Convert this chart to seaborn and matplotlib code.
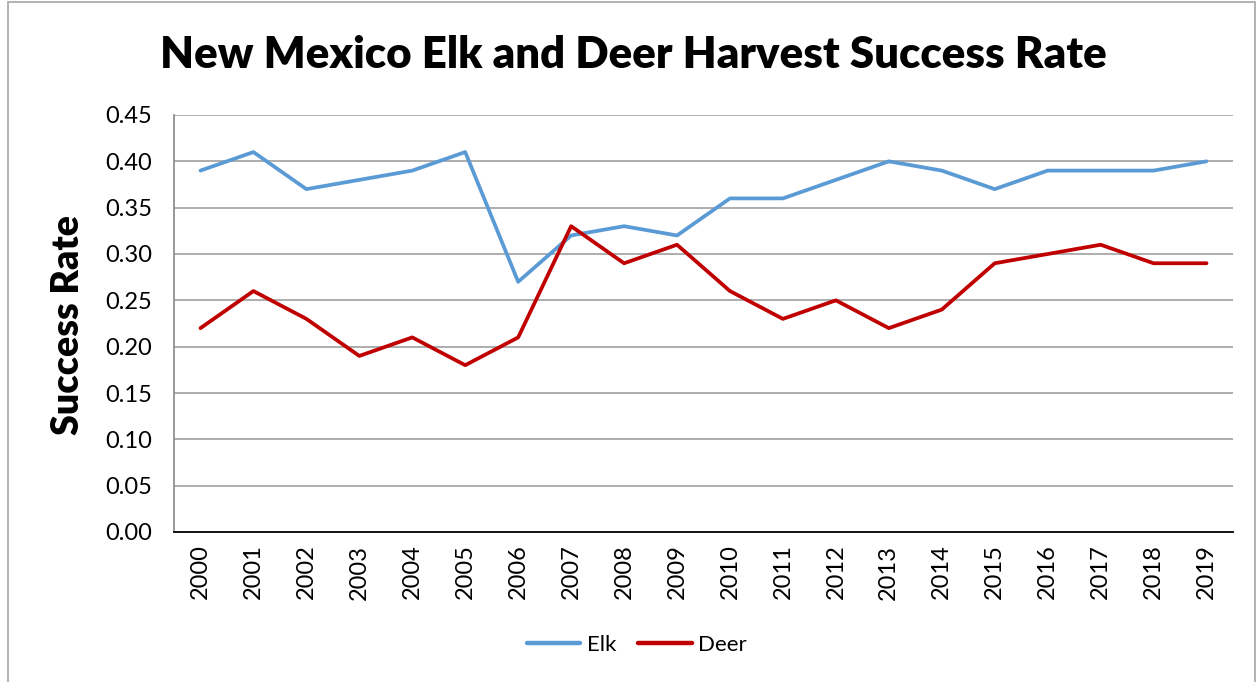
import matplotlib
matplotlib.use("Agg")
import matplotlib.pyplot as plt
from matplotlib.patches import Rectangle
import seaborn as sns
import pandas as pd

years = [str(y) for y in range(2000, 2020)]
elk = [0.39, 0.41, 0.37, 0.38, 0.39, 0.41, 0.27, 0.32, 0.33, 0.32,
       0.36, 0.36, 0.38, 0.40, 0.39, 0.37, 0.39, 0.39, 0.39, 0.40]
deer = [0.22, 0.26, 0.23, 0.19, 0.21, 0.18, 0.21, 0.33, 0.29, 0.31,
        0.26, 0.23, 0.25, 0.22, 0.24, 0.29, 0.30, 0.31, 0.29, 0.29]
series_names = ["Elk", "Deer"]
colors = ["#5B9BD5", "#C00000"]
yticks = [0.00, 0.05, 0.10, 0.15, 0.20, 0.25, 0.30, 0.35, 0.40, 0.45]

df = pd.DataFrame({
    "Year": years * 2,
    "Rate": elk + deer,
    "Species": [series_names[0]] * len(years) + [series_names[1]] * len(years),
})
df["pos"] = list(range(len(years))) * 2

sns.set_theme(style="white")
plt.rcParams["font.family"] = ["Lato", "DejaVu Sans"]
plt.rcParams["text.color"] = "black"
plt.rcParams["xtick.color"] = "black"
plt.rcParams["ytick.color"] = "black"
plt.rcParams["axes.labelcolor"] = "black"

fig = plt.figure(figsize=(12.6, 6.82), dpi=100)
ax = fig.add_axes([174 / 1260, 1 - 532 / 682, (1233 - 174) / 1260, (532 - 115) / 682])

sns.lineplot(data=df, x="pos", y="Rate", hue="Species", palette=colors,
             linewidth=2.7, ax=ax, legend=False, sort=False)

ax.set_xlim(-0.5, len(years) - 0.5)
ax.set_ylim(0, 0.45)
ax.set_yticks(yticks)
ax.set_yticklabels([f"{v:.2f}" for v in yticks], fontsize=17)
ax.set_xticks(range(len(years)))
ax.set_xticklabels(years, rotation=90, fontsize=17)
ax.tick_params(axis="y", length=0, pad=16)
ax.tick_params(axis="x", length=0, pad=9)

for v in yticks[1:]:
    ax.axhline(v, color="#a0a0a0", linewidth=1.2, zorder=0)

for side in ["top", "right"]:
    ax.spines[side].set_visible(False)
ax.spines["left"].set_color("#888888")
ax.spines["left"].set_linewidth(1.2)
ax.spines["bottom"].set_color("#000000")
ax.spines["bottom"].set_linewidth(1.3)

ax.set_xlabel("")
ax.set_ylabel("")
fig.text(68 / 1260, 1 - 325 / 682, "Success Rate", rotation=90,
         ha="center", va="center", fontsize=27, fontweight="heavy")

fig.text(633 / 1260, 1 - 55 / 682, "New Mexico Elk and Deer Harvest Success Rate",
         ha="center", va="center", fontsize=31.5, fontweight="heavy")

handles = [plt.Line2D([0], [0], color=c, linewidth=3.2) for c in colors]
fig.legend(handles, series_names, loc="center", bbox_to_anchor=(637 / 1260, 1 - 645 / 682),
           ncol=2, frameon=False, fontsize=16, handlelength=2.4, columnspacing=1.0,
           handletextpad=0.3)

fig.patches.append(Rectangle((8 / 1260, -0.01), (1255 - 8) / 1260, 1.0 - 2 / 682 + 0.01,
                             transform=fig.transFigure, fill=False,
                             edgecolor="#a6a6a6", linewidth=1.2))

fig.savefig("out.png", dpi=100)
